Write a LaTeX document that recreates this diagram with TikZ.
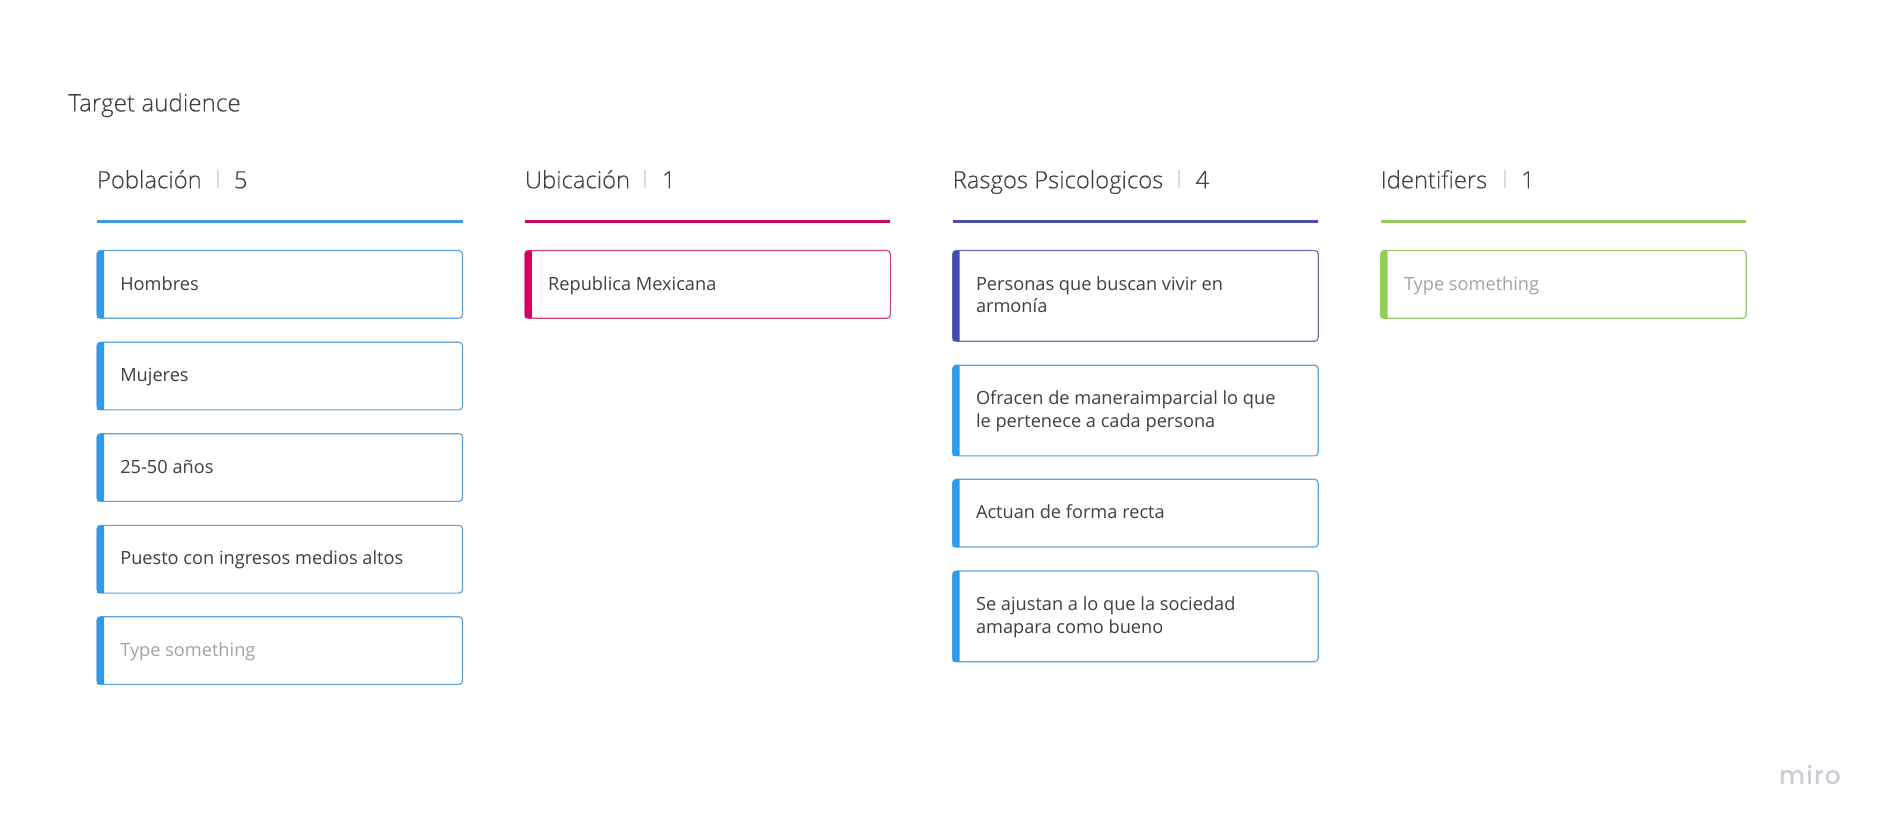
\documentclass[tikz,border=0pt]{standalone}
\usepackage{fontspec}
\setmainfont{Open Sans}
\newfontfamily\headfont[UprightFont=* Light,FakeBold=0.12]{Open Sans}
\newfontfamily\logofont[UprightFont=* Medium]{Poppins}
\definecolor{cblue}{HTML}{2D9BF0}
\definecolor{cpink}{HTML}{DA0063}
\definecolor{cindigo}{HTML}{414BB2}
\definecolor{cgreen}{HTML}{8FD14F}
\definecolor{rblue}{HTML}{439BDF}
\definecolor{rpink}{HTML}{C9085F}
\definecolor{rindigo}{HTML}{4C4FAA}
\definecolor{rgreen}{HTML}{90CC60}
\definecolor{ink}{HTML}{404042}
\definecolor{hint}{HTML}{A3A3A6}
\definecolor{sepgray}{HTML}{DDDDDD}
\definecolor{logogray}{HTML}{CDCDD8}
\tikzset{
  x=1pt,y=-1pt,
  cardbox/.style={draw=#1!75!gray!85!white,line width=1.15pt,rounded corners=3.5pt,fill=white,anchor=north west,minimum width=365.5pt,inner sep=0pt,outer sep=0pt},
  cardtext/.style={anchor=base west,inner sep=0pt,outer sep=0pt,text=ink,font=\fontsize{18.2}{22.7}\selectfont,align=left},
  twolines/.style={cardtext,yshift=-22.7pt},
  hinttext/.style={cardtext,text=hint},
  headtext/.style={anchor=base west,inner sep=0pt,outer sep=0pt,text=ink,font=\headfont\fontsize{23.8}{28}\selectfont},
  titletext/.style={headtext,font=\headfont\fontsize{24.2}{28}\selectfont},
  headrule/.style={line width=2.4pt},
  sepline/.style={draw=sepgray,line width=2pt},
}
% name, x, y, height, colour, text style, text
\newcommand{\cardat}[7]{%
  \node[cardbox=#5,minimum height=#4pt] (#1) at (#2,#3) {};
  \fill[#5,rounded corners=3.5pt] (#1.south west) -- (#1.north west) [sharp corners] -- ([xshift=7pt]#1.north west) -- ([xshift=7pt]#1.south west) -- cycle;
  \node[#6] (#1t) at ([xshift=23.3pt,yshift=-39.5pt]#1.north west) {#7};
}
% name, x, rule colour, title, sep x, number x, number
\newcommand{\headat}[7]{%
  \node[headtext] (#1) at (#2,188.3) {#4};
  \coordinate (#1a) at (#5,170); \coordinate (#1b) at (#5,188);
  \draw[sepline] (#1a) -- (#1b);
  \node[headtext] (#1n) at (#6,188.3) {#7};
  \coordinate (#1l) at (#2,221.3); \coordinate (#1r) at (#2+365.5,221.3);
  \draw[headrule,#3] (#1l) -- (#1r);
}
\begin{document}
\begin{tikzpicture}
\useasboundingbox[fill=white] (0,0) rectangle (1884,828);
\node[titletext] (title) at (68.3,111.4) {Target audience};

\headat{ha}{97}{rblue}{Población}{217.7}{234}{5}
\headat{hb}{524.9}{rpink}{Ubicación}{645}{662}{1}
\headat{hc}{952.7}{rindigo}{Rasgos Psicologicos}{1179}{1195.5}{4}
\headat{hd}{1380.7}{rgreen}{Identifiers}{1505}{1521}{1}

\cardat{a1}{97}{250.5}{67.7}{cblue}{cardtext}{Hombres}
\cardat{a2}{97}{342.2}{67.7}{cblue}{cardtext}{Mujeres}
\cardat{a3}{97}{433.7}{67.7}{cblue}{cardtext}{25-50 años}
\cardat{a4}{97}{525.4}{67.7}{cblue}{cardtext}{Puesto con ingresos medios altos}
\cardat{a5}{97}{616.7}{67.7}{cblue}{hinttext}{Type something}

\cardat{b1}{524.9}{250.5}{67.7}{cpink}{cardtext}{Republica Mexicana}

\cardat{c1}{952.7}{250.5}{90.7}{cindigo}{twolines}{Personas que buscan vivir en\\armonía}
\cardat{c2}{952.7}{365.2}{90.7}{cblue}{twolines}{Ofracen de maneraimparcial lo que\\le pertenece a cada persona}
\cardat{c3}{952.7}{479.3}{67.7}{cblue}{cardtext}{Actuan de forma recta}
\cardat{c4}{952.7}{571}{90.7}{cblue}{twolines}{Se ajustan a lo que la sociedad\\amapara como bueno}

\cardat{d1}{1380.7}{250.5}{67.7}{cgreen}{hinttext}{Type something}

\node[anchor=base east,inner sep=0pt,text=logogray,font=\logofont\fontsize{25}{30}\selectfont] (logo) at (1841,784) {m\kern1.2pt i\kern1.2pt r\kern1.2pt o};
\end{tikzpicture}
\end{document}
